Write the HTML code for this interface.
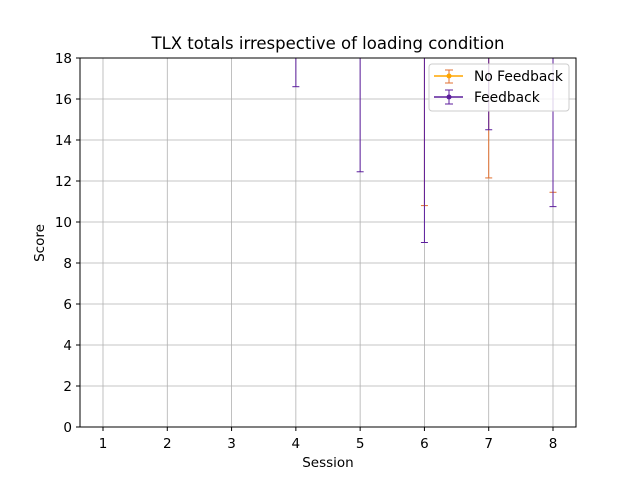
<!DOCTYPE html>
<html><head><meta charset="utf-8"><style>
body{margin:0;background:#fff}
svg{font-family:"DejaVu Sans","Liberation Sans",sans-serif}
</style></head><body>
<svg width="640" height="480" xmlns="http://www.w3.org/2000/svg">
<defs><clipPath id="pc"><rect x="80" y="58" width="496" height="369"/></clipPath></defs>
<rect width="640" height="480" fill="#fff"/>
<text x="328" y="49" font-size="16.5" text-anchor="middle">TLX totals irrespective of loading condition</text>
<g id="grid"></g>
<g id="ticks"></g>
<g id="marks" clip-path="url(#pc)"></g>
<rect x="80" y="58" width="496" height="369" fill="none" stroke="#000" stroke-width="1"/>
<text x="328" y="467" font-size="13.5" text-anchor="middle">Session</text>
<text x="44" y="243" font-size="13.5" text-anchor="middle" transform="rotate(-90 44 243)">Score</text>
<g>
<rect x="429" y="64" width="140" height="47" rx="3" fill="#fff" fill-opacity="0.8" stroke="#ccc"/>
<g>
<line x1="434" y1="76" x2="463" y2="76" stroke="#ffa500" stroke-width="1.5"/>
<line x1="449" y1="70" x2="449" y2="83" stroke="#e07030"/><line x1="445" y1="70" x2="453" y2="70" stroke="#e07030"/><line x1="445" y1="83" x2="453" y2="83" stroke="#e07030"/>
<circle cx="449" cy="76" r="2.5" fill="#ffa500"/>
<text x="474" y="81" font-size="13.8">No Feedback</text></g>
<g>
<line x1="434" y1="97" x2="463" y2="97" stroke="#5c1e9c" stroke-width="1.5"/>
<line x1="449" y1="90" x2="449" y2="104" stroke="#5c1e9c"/><line x1="445" y1="90" x2="453" y2="90" stroke="#5c1e9c"/><line x1="445" y1="104" x2="453" y2="104" stroke="#5c1e9c"/>
<circle cx="449" cy="97" r="2.5" fill="#5c1e9c"/>
<text x="474" y="102" font-size="13.8">Feedback</text></g>
</g>
</svg>
<script>
const sessions=[1,2,3,4,5,6,7,8];
const yTicks=[0,2,4,6,8,10,12,14,16,18];
const nfMean=[null,null,null,null,null,22,22,22];
const nfErr=[null,null,null,null,null,11.2,9.85,10.55];
const fbMean=[null,null,null,22,22,22,22,22];
const fbErr=[null,null,null,5.4,9.55,13.0,7.5,11.25];
const X=v=>103+(v-1)*(553-103)/7;
const Y=v=>427-v*(427-58)/18;
const NS="http://www.w3.org/2000/svg";
function mk(p,t,a){const e=document.createElementNS(NS,t);for(const k in a)e.setAttribute(k,a[k]);p.appendChild(e);return e;}
const g=document.getElementById('grid'),tk=document.getElementById('ticks'),m=document.getElementById('marks');
sessions.forEach(s=>{const x=X(s);
const l=mk(g,'line',{x1:x,y1:58,x2:x,y2:427,stroke:'#b0b0b0','stroke-width':0.8});


mk(tk,'line',{x1:x,y1:427,x2:x,y2:431,stroke:'#000'});
const t=mk(tk,'text',{x:x,y:448,'font-size':13.5,'text-anchor':'middle'});t.textContent=s;

});
yTicks.forEach(v=>{const y=Y(v);
const l=mk(g,'line',{x1:80,y1:y,x2:576,y2:y,stroke:'#b0b0b0','stroke-width':0.8});


mk(tk,'line',{x1:76,y1:y,x2:80,y2:y,stroke:'#000'});
const t=mk(tk,'text',{x:72,y:y+5,'font-size':13.5,'text-anchor':'end'});t.textContent=v;

});
function series(mean,err,col,name){sessions.forEach((s,i)=>{if(mean[i]==null)return;const x=X(s),lo=Y(mean[i]-err[i]),hi=Y(mean[i]+err[i]);
const gg=mk(m,'g',{});


mk(gg,'line',{x1:x,y1:lo,x2:x,y2:hi,stroke:col,'stroke-width':1});
mk(gg,'line',{x1:x-3.5,y1:lo,x2:x+3.5,y2:lo,stroke:col,'stroke-width':1});
mk(gg,'line',{x1:x-3.5,y1:hi,x2:x+3.5,y2:hi,stroke:col,'stroke-width':1});});}
series(nfMean,nfErr,'#e07030','no-feedback');
series(fbMean,fbErr,'#5c1e9c','feedback');
</script>
</body></html>
